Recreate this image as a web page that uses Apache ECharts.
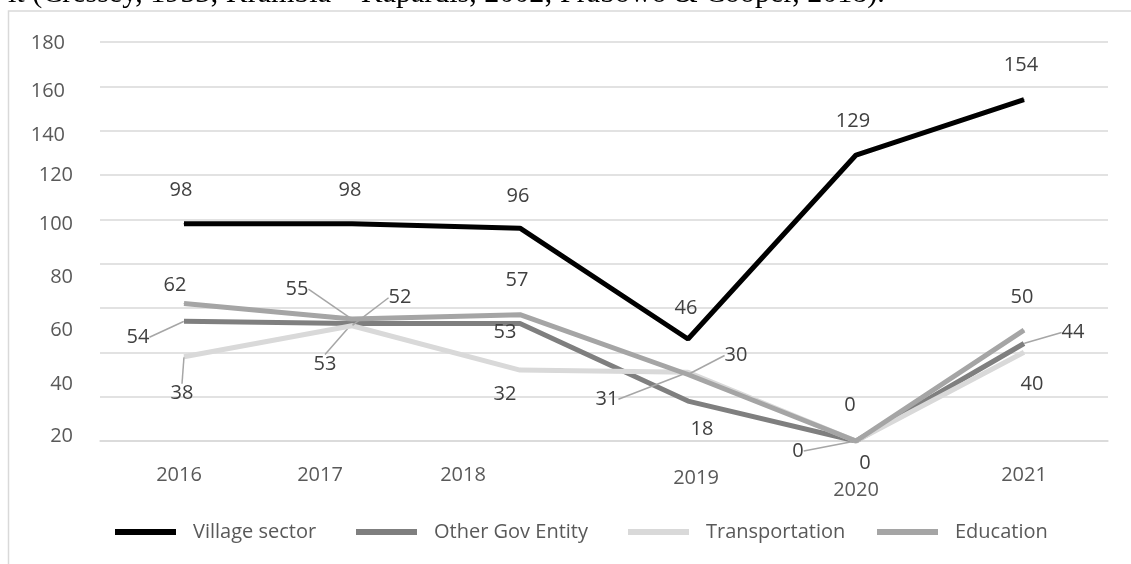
<!DOCTYPE html>
<html>
<head>
<meta charset="utf-8">
<style>
  html, body { margin: 0; padding: 0; background: #ffffff; }
  #chart { width: 1131px; height: 564px; }
</style>
<script src="https://cdn.jsdelivr.net/npm/echarts@6/dist/echarts.min.js"></script>
</head>
<body>
<div id="chart"></div>
<script>
// Values per year
const years = ['2016', '2017', '2018', '2019', '2020', '2021'];
const villageSector = [98, 98, 96, 46, 129, 154];
const otherGovEntity = [54, 53, 53, 18, 0, 44];
const transportation = [38, 52, 32, 31, 0, 40];
const education = [62, 55, 57, 30, 0, 50];
const seriesNames = ['Village sector', 'Other Gov Entity', 'Transportation', 'Education'];
const yTickValues = [20, 40, 60, 80, 100, 120, 140, 160, 180];
const citationLine = 'it (Cressey, 1953; Krambia – Kapardis, 2002; Prabowo & Cooper, 2018).';

// ---- styling ----
const FONT = '"Open Sans", "Noto Sans", sans-serif';
const FS = 20;
const seriesColors = ['#000000', '#7f7f7f', '#d9d9d9', '#a5a5a5'];

// label nudges [dx, dy] relative to each point, and which labels carry a leader line
const labelNudge = [
  [[-3, -33], [-2, -33], [-2, -32], [-2, -31], [-3, -34], [-3, -34]],
  [[-46, 16], [-27, 41], [-15, 9], [14, 28], [9, 22], [49, -11]],
  [[-2, 37], [48, -28], [-15, 24], [-81, 27], [-58, 10], [8, 32]],
  [[-9, -18], [-55, -30], [-3, -34], [48, -19], [-6, -36], [-2, -33]]
];
const labelLeader = [
  [false, false, false, false, false, false],
  [true, true, false, false, false, true],
  [true, true, false, true, true, false],
  [false, true, false, true, false, false]
];

// axis label nudges: y => [dy, shiftLeft]; x => [dx, dy]
const yLabelNudge = { 180: [1, 8], 160: [5, 8], 140: [5, 8], 120: [0, 0], 100: [5, 0], 80: [14, 0], 60: [22, 0], 40: [32, 0], 20: [40, 0] };
const xLabelNudge = { '2016': [-5, 0], '2017': [-32, 0], '2018': [-57, 0], '2019': [8, 3], '2020': [0, 15], '2021': [0, 0] };
const legendLeft = [115, 356, 628, 877];

const axisTextBase = { fontFamily: FONT, fontSize: FS, color: '#595959' };

const yRich = {};
yTickValues.forEach(v => {
  const n = yLabelNudge[v] || [0, 0];
  yRich['y' + v] = Object.assign({}, axisTextBase, { padding: [2 * n[0], n[1], 0, 0] });
});
const xRich = {};
years.forEach((y, i) => {
  const n = xLabelNudge[y] || [0, 0];
  xRich['x' + i] = Object.assign({}, axisTextBase, {
    padding: [n[1], n[0] < 0 ? -2 * n[0] : 0, 0, n[0] > 0 ? 2 * n[0] : 0]
  });
});

const allValues = [villageSector, otherGovEntity, transportation, education];

const series = allValues.map((vals, s) => ({
  name: seriesNames[s],
  type: 'line',
  data: vals.map((v, i) => ({
    value: v,
    labelLine: { show: labelLeader[s][i] }
  })),
  symbol: 'circle',
  symbolSize: 1,
  showSymbol: true,
  color: seriesColors[s],
  itemStyle: { color: seriesColors[s] },
  lineStyle: { color: seriesColors[s], width: 5 },
  label: {
    show: true,
    position: 'inside',
    formatter: p => String(p.value),
    fontFamily: FONT,
    fontSize: FS,
    color: '#404040'
  },
  labelLine: {
    show: false,
    lineStyle: { color: '#a6a6a6', width: 1.5 }
  },
  labelLayout: p => {
    const n = labelNudge[s][p.dataIndex];
    return { dx: n[0], dy: n[1], hideOverlap: false };
  },
  emphasis: { disabled: true },
  z: 2 + s
}));

const legends = seriesNames.map((name, s) => ({
  data: [name],
  left: legendLeft[s],
  top: 522,
  padding: 0,
  icon: 'rect',
  itemWidth: 61,
  itemHeight: 6,
  itemGap: 0,
  selectedMode: false,
  textStyle: {
    fontFamily: FONT,
    fontSize: FS,
    color: '#595959',
    padding: name === 'Transportation' ? [10, 0, 0, 12] : [0, 0, 0, 12]
  }
}));

const chart = echarts.init(document.getElementById('chart'), null, { renderer: 'canvas' });
chart.setOption({
  animation: false,
  backgroundColor: '#ffffff',
  grid: { left: 100, right: 23, top: 42, bottom: 123, containLabel: false },
  xAxis: {
    type: 'category',
    data: years,
    boundaryGap: true,
    axisLine: { show: true, lineStyle: { color: '#d9d9d9', width: 1.5 } },
    axisTick: { show: false },
    axisLabel: {
      margin: 24,
      formatter: (v, i) => '{x' + i + '|' + v + '}',
      rich: xRich
    }
  },
  yAxis: {
    type: 'value',
    min: 0,
    max: 180,
    interval: 20,
    axisLine: { show: false },
    axisTick: { show: false },
    splitLine: { show: true, lineStyle: { color: '#d9d9d9', width: 1.5 } },
    axisLabel: {
      margin: 27,
      formatter: v => (yTickValues.indexOf(v) >= 0 ? '{y' + v + '|' + v + '}' : ''),
      rich: yRich
    }
  },
  legend: legends,
  graphic: [
    {
      type: 'rect',
      shape: { x: 8.5, y: 11, width: 1200, height: 700 },
      style: { fill: 'none', stroke: '#d9d9d9', lineWidth: 1.5 },
      silent: true,
      z: 0
    },
    {
      type: 'text',
      left: 8,
      top: -21,
      style: {
        text: citationLine,
        font: '30px "Liberation Serif", "DejaVu Serif", serif',
        fill: '#000000'
      },
      silent: true
    }
  ],
  series: series
});
</script>
</body>
</html>
